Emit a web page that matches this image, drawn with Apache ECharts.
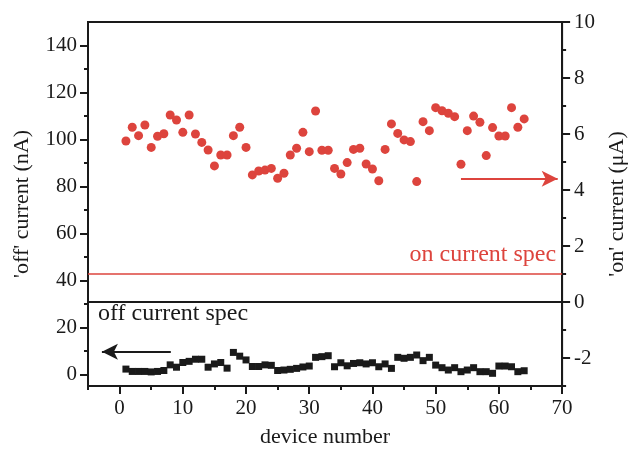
<!DOCTYPE html>
<html>
<head>
<meta charset="utf-8">
<script src="https://cdn.jsdelivr.net/npm/echarts@6/dist/echarts.min.js"></script>
<style>
  html, body { margin: 0; padding: 0; background: #fff; }
  #chart { width: 636px; height: 453px; }
</style>
</head>
<body>
<div id="chart"></div>
<script>
/* device scatter: off current (nA, left) and on current (uA, right) */

var devices = [];
for (var i = 1; i <= 64; i++) devices.push(i);

// 'on' current, uA (red circles, right axis)
var onCurrent = [
	5.75, 6.24, 5.94, 6.32, 5.52, 5.92, 6.01, 6.68, 6.50, 6.06,
	6.68, 6.00, 5.70, 5.43, 4.86, 5.25, 5.25, 5.94, 6.24, 5.52,
	4.54, 4.68, 4.71, 4.77, 4.42, 4.60, 5.25, 5.49, 6.06, 5.37,
	6.82, 5.42, 5.42, 4.77, 4.57, 4.98, 5.45, 5.49, 4.93, 4.75,
	4.33, 5.45, 6.36, 6.02, 5.79, 5.73, 4.30, 6.44, 6.12, 6.94,
	6.83, 6.74, 6.62, 4.92, 6.12, 6.64, 6.42, 5.23, 6.23, 5.93,
	5.93, 6.94, 6.24, 6.54
];

// 'off' current, nA (black squares, left axis)
var offCurrent = [
	2.2, 1.2, 1.2, 1.2, 1.0, 1.2, 1.6, 4.0, 3.0, 5.0,
	5.5, 6.4, 6.4, 3.0, 4.4, 5.0, 2.6, 9.3, 7.7, 6.1,
	3.3, 3.3, 4.0, 3.8, 1.6, 1.8, 2.1, 2.5, 3.1, 3.5,
	7.2, 7.5, 7.9, 3.2, 4.9, 3.6, 4.6, 4.9, 4.4, 4.9,
	3.2, 4.4, 2.5, 7.2, 6.8, 7.2, 8.2, 5.8, 7.2, 3.9,
	2.8, 1.8, 2.8, 1.1, 1.8, 2.8, 1.1, 1.1, 0.4, 3.5,
	3.5, 3.2, 1.1, 1.5
];

// tick values
var xMajor = [0, 10, 20, 30, 40, 50, 60, 70];
var xMinor = [-5, 5, 15, 25, 35, 45, 55, 65];
var leftMajor = [0, 20, 40, 60, 80, 100, 120, 140];
var leftMinor = [10, 30, 50, 70, 90, 110, 130];
var rightMajor = [-2, 0, 2, 4, 6, 8, 10];
var rightMinor = [-3, -1, 1, 3, 5, 7, 9];

// spec lines / arrows
var onSpec = 1;        // uA
var onArrow = { from: 54, to: 69.3, y: 4.4 };
var offArrow = { from: 8.1, to: -2.8, y: 9.6 };

var font = "'Liberation Serif', 'DejaVu Serif', serif";
var ink = '#1a1a1a';
var red = '#dd443d';

var chart = echarts.init(document.getElementById('chart'));

function axisBase(extra) {
	var base = {
		type: 'value',
		splitLine: { show: false },
		axisLine: { show: true, onZero: false, lineStyle: { color: ink, width: 2 } },
		axisLabel: { fontFamily: font, fontSize: 21, color: ink },
		nameTextStyle: { fontFamily: font, fontSize: 22, color: ink }
	};
	for (var k in extra) base[k] = extra[k];
	return base;
}

// extra axis on the same edge, only for the short minor ticks
function minorAxis(extra) {
	var base = {
		type: 'value',
		splitLine: { show: false },
		axisLine: { show: false, onZero: false },
		axisLabel: { show: false }
	};
	for (var k in extra) base[k] = extra[k];
	return base;
}

var option = {
	animation: false,
	backgroundColor: '#fff',
	grid: {
		left: 88, right: 68, top: 22, bottom: 67,
		show: true, borderColor: ink, borderWidth: 2
	},
	xAxis: [
		axisBase({
			position: 'bottom', min: -5, max: 70,
			name: 'device number', nameLocation: 'middle', nameGap: 40,
			axisTick: { length: 8, lineStyle: { color: ink, width: 2 }, customValues: xMajor },
			axisLabel: { fontFamily: font, fontSize: 21, color: ink, margin: 12, customValues: xMajor }
		}),
		minorAxis({
			position: 'bottom', min: -5, max: 70,
			axisTick: { length: 4, lineStyle: { color: ink, width: 2 }, customValues: xMinor }
		})
	],
	yAxis: [
		axisBase({
			position: 'left', min: -5, max: 150,
			name: "'off' current (nA)", nameLocation: 'middle', nameGap: 55, nameRotate: 90,
			axisTick: { length: 8, lineStyle: { color: ink, width: 2 }, customValues: leftMajor },
			axisLabel: { fontFamily: font, fontSize: 21, color: ink, margin: 11, customValues: leftMajor }
		}),
		axisBase({
			position: 'right', min: -3, max: 10,
			name: "'on' current (\u03bcA)", nameLocation: 'middle', nameGap: 42, nameRotate: 90,
			axisTick: { length: 8, lineStyle: { color: ink, width: 2 }, customValues: rightMajor },
			axisLabel: { fontFamily: font, fontSize: 21, color: ink, margin: 12, customValues: rightMajor }
		}),
		minorAxis({
			position: 'left', min: -5, max: 150,
			axisTick: { length: 4, lineStyle: { color: ink, width: 2 }, customValues: leftMinor }
		}),
		minorAxis({
			position: 'right', min: -3, max: 10,
			axisTick: { length: 4, lineStyle: { color: ink, width: 2 }, customValues: rightMinor }
		})
	],
	graphic: [
		{
			type: 'text', left: 98, top: 302,
			style: { text: 'off current spec', font: '24px ' + font, fill: ink }
		}
	],
	series: [
		{
			name: 'on current',
			type: 'scatter',
			xAxisIndex: 0, yAxisIndex: 1,
			symbol: 'circle', symbolSize: 9,
			itemStyle: { color: red, opacity: 1 },
			data: devices.map(function (d, i) { return [d, onCurrent[i]]; }),
			markLine: {
				silent: true, symbol: 'none',
				data: [
					[
						{ coord: [-5, onSpec], lineStyle: { color: red, width: 1.5, type: 'solid' },
						  label: { show: true, position: 'insideEndTop', formatter: 'on current spec',
						           fontFamily: font, fontSize: 24, color: red, distance: [6, 7] } },
						{ coord: [70, onSpec] }
					],
					[
						{ coord: [-5, 0], lineStyle: { color: ink, width: 2, type: 'solid' }, label: { show: false } },
						{ coord: [70, 0] }
					],
					[
						{ coord: [onArrow.from, onArrow.y], symbol: 'none',
						  lineStyle: { color: red, width: 2, type: 'solid' }, label: { show: false } },
						{ coord: [onArrow.to, onArrow.y], symbol: 'arrow', symbolSize: [12, 16] }
					]
				]
			}
		},
		{
			name: 'off current',
			type: 'scatter',
			xAxisIndex: 0, yAxisIndex: 0,
			symbol: 'rect', symbolSize: 7,
			itemStyle: { color: ink, opacity: 1 },
			data: devices.map(function (d, i) { return [d, offCurrent[i]]; }),
			markLine: {
				silent: true, symbol: 'none',
				data: [
					[
						{ coord: [offArrow.from, offArrow.y], symbol: 'none',
						  lineStyle: { color: ink, width: 2, type: 'solid' }, label: { show: false } },
						{ coord: [offArrow.to, offArrow.y], symbol: 'arrow', symbolSize: [12, 16] }
					]
				]
			}
		}
	]
};

chart.setOption(option);
</script>
</body>
</html>
